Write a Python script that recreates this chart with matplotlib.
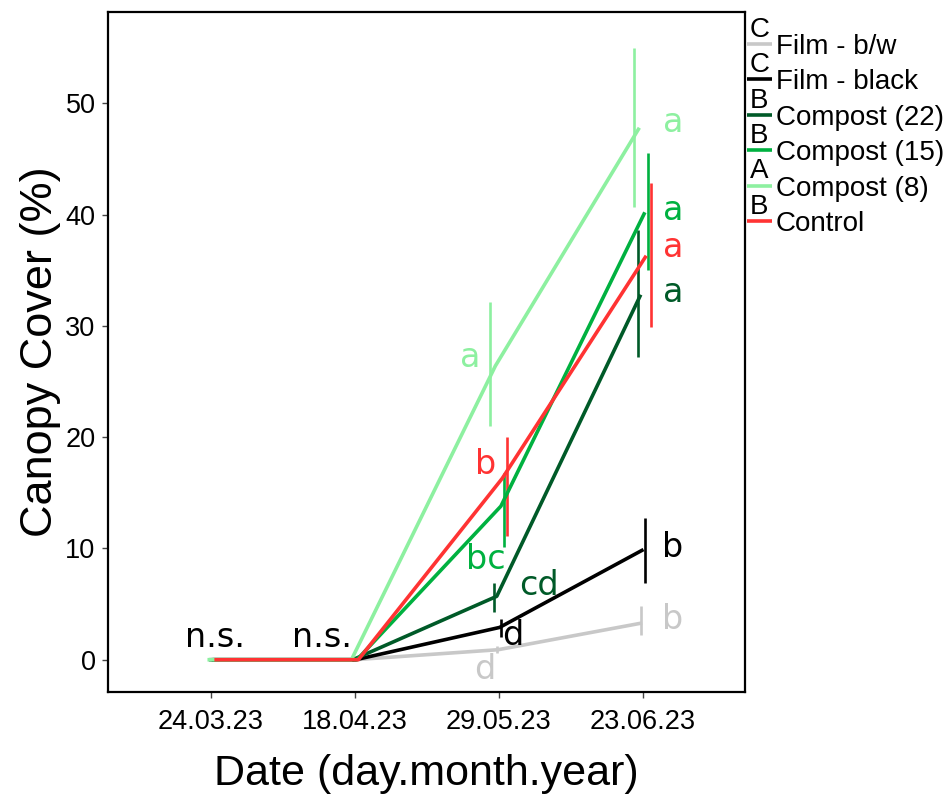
import matplotlib
matplotlib.use("Agg")
import matplotlib.pyplot as plt
import numpy as np
from matplotlib.legend_handler import HandlerLine2D
from matplotlib.text import Text

# ---------------- data ----------------
dates = ['24.03.23', '18.04.23', '29.05.23', '23.06.23']
treatments = ['Film - b/w', 'Film - black', 'Compost (22)', 'Compost (15)', 'Compost (8)', 'Control']
group_letters = ['C', 'C', 'B', 'B', 'A', 'B']

mean_bw = [0, 0, 0.9, 3.3]
mean_black = [0, 0, 2.9, 9.9]
mean_c22 = [0, 0, 5.7, 32.8]
mean_c15 = [0, 0, 13.8, 40.2]
mean_c8 = [0, 0, 26.4, 47.8]
mean_ctrl = [0, 0, 16.3, 36.3]

lo_bw = [np.nan, np.nan, 0.6, 2.2]
hi_bw = [np.nan, np.nan, 1.2, 4.8]
lo_black = [np.nan, np.nan, 2.0, 6.9]
hi_black = [np.nan, np.nan, 3.7, 12.7]
lo_c22 = [np.nan, np.nan, 4.3, 27.2]
hi_c22 = [np.nan, np.nan, 6.9, 38.6]
lo_c15 = [np.nan, np.nan, 10.1, 35.0]
hi_c15 = [np.nan, np.nan, 16.8, 45.5]
lo_c8 = [np.nan, np.nan, 21.0, 40.7]
hi_c8 = [np.nan, np.nan, 32.1, 55.0]
lo_ctrl = [np.nan, np.nan, 11.1, 29.9]
hi_ctrl = [np.nan, np.nan, 20.0, 42.8]

# significance letters per date (29.05.23 and 23.06.23)
letters_d3 = ['d', 'd', 'cd', 'bc', 'a', 'b']
letters_d4 = ['b', 'b', 'a', 'a', 'a', 'a']
letter_pos_d3 = [(2.90, -0.9), (3.10, 2.2), (3.28, 6.7), (2.91, 9.0), (2.80, 27.2), (2.91, 17.5)]
letter_pos_d4 = [(4.21, 3.6), (4.21, 10.05), (4.21, 33.0), (4.21, 40.4), (4.21, 48.3), (4.21, 37.0)]
ns_labels = ['n.s.', 'n.s.']
ns_pos = [(1.03, 2.0), (1.77, 2.0)]

means = [mean_bw, mean_black, mean_c22, mean_c15, mean_c8, mean_ctrl]
lows = [lo_bw, lo_black, lo_c22, lo_c15, lo_c8, lo_ctrl]
highs = [hi_bw, hi_black, hi_c22, hi_c15, hi_c8, hi_ctrl]

colors = ['#C8C8C8', '#000000', '#005A28', '#00B140', '#8DF0A0', '#FF3333']
eb_offsets = [-0.012, 0.012, -0.036, 0.036, -0.06, 0.06]

# ---------------- figure ----------------
fig = plt.figure(figsize=(9.52, 7.94), dpi=100)
ax = fig.add_axes([108 / 952, 1 - 692 / 794, (745 - 108) / 952, (692 - 12) / 794])

x = np.arange(1, len(dates) + 1)
lines = []
for m, lo, hi, c, off in zip(means, lows, highs, colors, eb_offsets):
    ln, = ax.plot(x + off * 0.4, m, color=c, lw=2.6, solid_capstyle='butt', zorder=3)
    lines.append(ln)
    ax.vlines(x + off, lo, hi, color=c, lw=1.9, zorder=2)

for lab, (px, py), c in zip(letters_d3, letter_pos_d3, colors):
    ax.text(px, py, lab, color=c, fontsize=24, ha='center', va='center', family='DejaVu Sans')
for lab, (px, py), c in zip(letters_d4, letter_pos_d4, colors):
    ax.text(px, py, lab, color=c, fontsize=24, ha='center', va='center', family='DejaVu Sans')
for lab, (px, py) in zip(ns_labels, ns_pos):
    ax.text(px, py, lab, color='black', fontsize=24, ha='center', va='center', family='DejaVu Sans')

ax.set_xlim(0.285, 4.71)
ax.set_ylim(-2.9, 58.2)
ax.set_xticks(x)
ax.set_xticklabels(dates)
ax.set_yticks([0, 10, 20, 30, 40, 50])
ax.tick_params(axis='both', labelsize=19.5, length=4, width=1, color='#444444', pad=5)
ax.tick_params(axis='x', pad=8)
for lbl in ax.get_xticklabels() + ax.get_yticklabels():
    lbl.set_family('Liberation Sans')
for sp in ax.spines.values():
    sp.set_linewidth(1.6)

ax.set_xlabel('Date (day.month.year)', fontsize=31, family='Liberation Sans', labelpad=14)
ax.set_ylabel('Canopy Cover (%)', fontsize=32.5, family='Liberation Sans', labelpad=3)


class LetterHandler(HandlerLine2D):
    def __init__(self, letter, **kw):
        super().__init__(**kw)
        self.letter = letter

    def create_artists(self, legend, orig_handle, xdescent, ydescent,
                       width, height, fontsize, trans):
        arts = super().create_artists(legend, orig_handle, xdescent, ydescent,
                                      width, height, fontsize, trans)
        t = Text(width / 2 - xdescent, height / 2 - ydescent + 1, self.letter,
                 ha='center', va='bottom', fontsize=20, family='Liberation Sans',
                 transform=trans)
        arts.append(t)
        return arts


handler_map = {ln: LetterHandler(l) for ln, l in zip(lines, group_letters)}
leg = ax.legend(lines, treatments, handler_map=handler_map, loc='upper left',
                bbox_to_anchor=(1.003, 0.968), borderaxespad=0, borderpad=0,
                frameon=False, handlelength=0.9, handletextpad=0.15,
                labelspacing=0.34, prop={'family': 'Liberation Sans', 'size': 20})

fig.savefig('out.png', dpi=100)
